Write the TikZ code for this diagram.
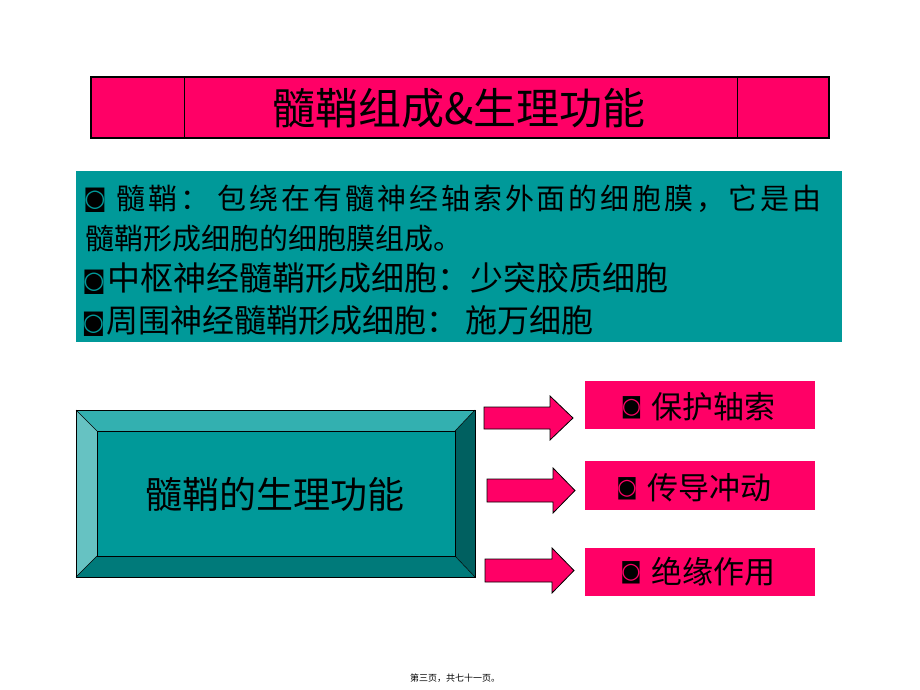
\documentclass[tikz,border=0pt]{standalone}
\usepackage{fontspec}
\newfontfamily\cjk{Noto Sans CJK SC}
\newfontfamily\symf{DejaVu Sans}
\definecolor{mypink}{HTML}{FF0066}
\definecolor{myteal}{HTML}{009999}
\definecolor{bevtop}{HTML}{33B0B0}
\definecolor{bevleft}{HTML}{66C2C2}
\definecolor{bevright}{HTML}{006060}
\definecolor{bevbot}{HTML}{007A7A}
\tikzset{
  pinkbox/.style={fill=mypink, minimum width=230pt, inner sep=0pt},
  pinktext/.style={font=\cjk\fontsize{31}{31}\selectfont, inner sep=0pt, anchor=west},
  tealline/.style={anchor=west, inner sep=0pt},
  tbul/.style={inner sep=0pt, font=\symf\fontsize{24}{24}\selectfont},
  pbul/.style={inner sep=0pt, font=\symf\fontsize{22}{22}\selectfont},
  blockarrow/.style={fill=mypink, draw=black, line width=0.8pt, line join=miter},
}
\begin{document}
\begin{tikzpicture}[x=1pt,y=-1pt]
\useasboundingbox (0,0) rectangle (920,690);
\fill[white] (0,0) rectangle (920,690);

% Title
\node[draw=black, line width=1.2pt, fill=mypink, minimum width=738pt, minimum height=61pt, inner sep=0pt] (title) at (460,107.5) {};
\draw[line width=0.6pt] (184,77) -- (184,138);
\draw[line width=0.6pt] (737,77) -- (737,138);
\node[inner sep=0pt, font=\cjk\fontsize{43}{43}\selectfont] (titletext) at (459,108) {髓鞘组成\&生理功能};

% Teal text box
\node[fill=myteal, minimum width=766pt, minimum height=171pt, inner sep=0pt] (def) at (459,256.5) {};
\node[tbul] (bu1) at (95,200.5) {◙};
\node[tealline, font=\cjk\fontsize{29}{29}\selectfont] (l1) at (116,199) {\addfontfeatures{LetterSpace=10}髓鞘：\hspace{9pt}包绕在有髓神经轴索外面的细胞膜，它是由};
\node[tealline, font=\cjk\fontsize{29}{29}\selectfont] (l2) at (85,239) {髓鞘形成细胞的细胞膜组成。};
\node[tbul] (bu3) at (94,282) {◙};
\node[tealline, font=\cjk\fontsize{33}{33}\selectfont] (l3) at (107,278) {中枢神经髓鞘形成细胞：少突胶质细胞};
\node[tbul] (bu4) at (93.5,324.5) {◙};
\node[tealline, font=\cjk\fontsize{32}{32}\selectfont] (l4) at (106,320) {周围神经髓鞘形成细胞： 施万细胞};

% Bevel box
\fill[bevtop] (76,410) -- (475,410) -- (455,431) -- (97,431) -- cycle;
\fill[bevleft] (76,410) -- (97,431) -- (97,556) -- (76,577) -- cycle;
\fill[bevright] (475,410) -- (475,577) -- (455,556) -- (455,431) -- cycle;
\fill[bevbot] (76,577) -- (97,556) -- (455,556) -- (475,577) -- cycle;
\draw[line width=0.5pt] (76,410) -- (97,431) (475,410) -- (455,431) (76,577) -- (97,556) (475,577) -- (455,556);
\node[fill=myteal, draw=black, line width=0.8pt, minimum width=358pt, minimum height=125pt, inner sep=0pt] (funcin) at (276,493.5) {};
\draw[line width=1pt] (76,410) rectangle (475,577);
\node[inner sep=0pt, font=\cjk\fontsize{37}{37}\selectfont] (func) at (274.5,494) {髓鞘的生理功能};

% Pink result boxes
\node[pinkbox, minimum height=48pt] (b1) at (700,405) {};
\node[pinkbox, minimum height=49pt] (b2) at (700,485.5) {};
\node[pinkbox, minimum height=48pt] (b3) at (700,572) {};
\node[pbul] (pb1) at (631.5,408) {◙};
\node[pbul] (pb2) at (627,489) {◙};
\node[pbul] (pb3) at (631,572.5) {◙};
\fill[black] (pb1.center) circle (3.6pt);
\fill[black] (pb2.center) circle (3.6pt);
\fill[black] (pb3.center) circle (3.6pt);
\node[pinktext] (t1) at (651,407) {保护轴索};
\node[pinktext] (t2) at (647,488) {传导冲动};
\node[pinktext] (t3) at (651,572) {绝缘作用};

% Block arrows
\draw[blockarrow] (484,407) -- (550,407) -- (550,396) -- (573,418) -- (550,440) -- (550,429) -- (484,429) -- cycle;
\draw[blockarrow] (487,479) -- (553,479) -- (553,468) -- (575,490.5) -- (553,513) -- (553,502) -- (487,502) -- cycle;
\draw[blockarrow] (485,559) -- (552,559) -- (552,548) -- (574,570.5) -- (552,593) -- (552,582) -- (485,582) -- cycle;

% Footer
\node[inner sep=0pt, font=\cjk\fontsize{9}{9}\selectfont] (foot) at (455,678) {第三页，共七十一页。};
\end{tikzpicture}
\end{document}
